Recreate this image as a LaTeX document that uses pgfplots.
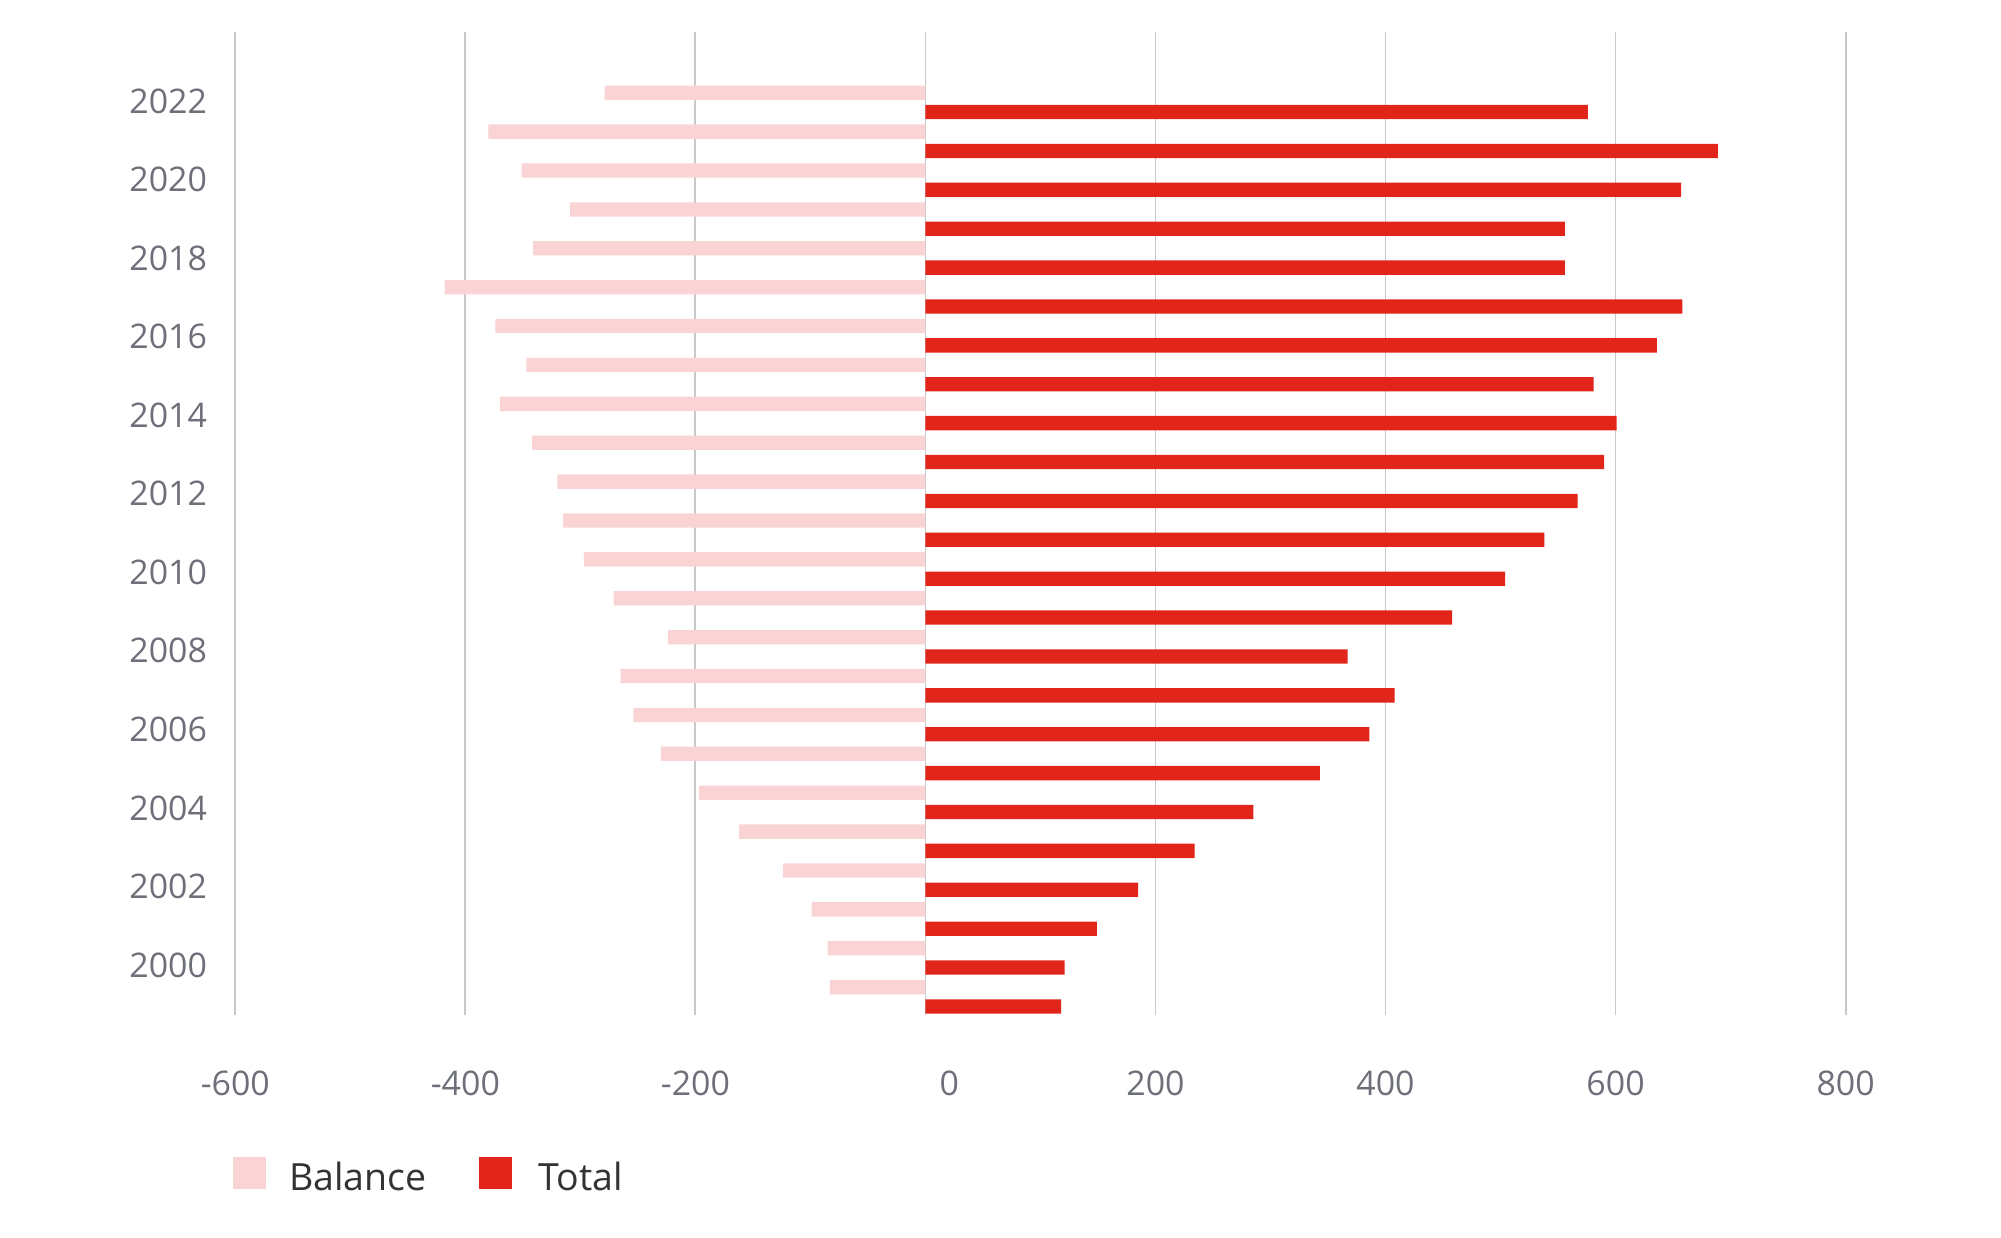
\documentclass[border=0pt]{standalone}
\usepackage{fontspec}
\setmainfont{Open Sans}
\usepackage{pgfplots}
\usepackage{pgfplotstable}
\pgfplotsset{compat=1.18}
\definecolor{balcol}{HTML}{FAD4D4}
\definecolor{totcol}{HTML}{E1251B}
\definecolor{lblcol}{HTML}{6E7079}
\definecolor{gridcol}{HTML}{C8C8C8}
\definecolor{legcol}{HTML}{333333}

\pgfplotstableread{
year balance total
1999 -83 118
2000 -85 121
2001 -99 149
2002 -124 185
2003 -162 234
2004 -197 285
2005 -230 343
2006 -254 386
2007 -265 408
2008 -224 367
2009 -271 458
2010 -297 504
2011 -315 538
2012 -320 567
2013 -342 590
2014 -370 601
2015 -347 581
2016 -374 636
2017 -418 658
2018 -341 556
2019 -309 556
2020 -351 657
2021 -380 689
2022 -279 576
}\datatable

\begin{document}
\begin{tikzpicture}
\path[use as bounding box] (0,0) rectangle (1000.5pt,618.5pt);
\begin{axis}[
  at={(117.65pt,111pt)}, anchor=south west,
  scale only axis, width=805.15pt, height=491.35pt,
  xmin=-600, xmax=800, ymin=1998.532, ymax=2023.803,
  xtick={-600,-400,-200,0,200,400,600,800},
  xticklabels={-600,-400,-200,{\hspace*{24pt}0},200,400,600,800},
  ytick={1999.818,2001.838,2003.858,2005.877,2007.897,2009.917,2011.937,2013.957,2015.977,2017.996,2020.016,2022.036},
  yticklabels={2000,2002,2004,2006,2008,2010,2012,2014,2016,2018,2020,2022},
  xmajorgrids, ymajorgrids=false,
  major grid style={gridcol, line width=0.9pt},
  axis line style={draw=none},
  major tick length=0pt,
  /pgf/number format/assume math mode=true,
  tick label style={font=\fontsize{16.95}{20}\selectfont, text=lblcol, inner sep=0pt},
  xticklabel style={anchor=center, yshift=-34pt},
  yticklabel style={anchor=east, xshift=-14pt},
  legend style={at={(-0.0012,-0.1631)}, anchor=west, draw=none, fill=none,
    inner sep=0pt, outer sep=0pt, legend columns=2,
    font=\fontsize{18.75}{22}\selectfont, text=legcol,
    column sep=11.5pt,
    /tikz/every even column/.append style={column sep=26pt},
    /tikz/column 3/.append style={column sep=13.5pt},
    nodes={inner sep=0pt, outer sep=0pt}},
  legend image code/.code={\fill[#1,draw=none] (0pt,-6pt) rectangle (16.5pt,10pt);},
]
\addplot[xbar, fill=balcol, draw=none, bar width=0.368, bar shift=0.248] table[x=balance, y=year] {\datatable};
\addlegendentry{Balance}
\addplot[xbar, fill=totcol, draw=none, bar width=0.368, bar shift=-0.248] table[x=total, y=year] {\datatable};
\addlegendentry{Total}
\end{axis}
\end{tikzpicture}
\end{document}
